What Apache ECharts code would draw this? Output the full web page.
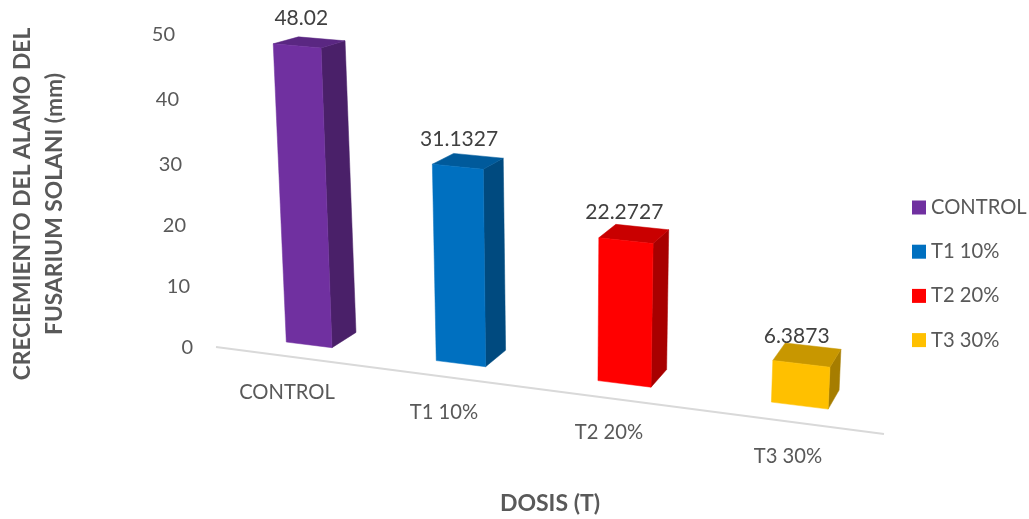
<!DOCTYPE html>
<html>
<head>
<meta charset="utf-8">
<style>html,body{margin:0;padding:0;background:#fff}#chart{width:1029px;height:519px}</style>
<script src="https://cdn.jsdelivr.net/npm/echarts@6/dist/echarts.min.js"></script>
</head>
<body>
<div id="chart"></div>
<script>
const categories = ['CONTROL', 'T1 10%', 'T2 20%', 'T3 30%'];
const growth = [48.02, 31.1327, 22.2727, 6.3873];
const yTicks = [0, 10, 20, 30, 40, 50];

// front, side and top shades of each box
const faceFront = ['#7030A0', '#0070C0', '#FF0000', '#FFC000'];
const faceSide = ['#4A2069', '#004A7F', '#A80000', '#A67D00'];
const faceTop = ['#5A2782', '#005A9B', '#C90000', '#C89700'];

const FONT = 'Lato, sans-serif';
const GRID = { left: 216, top: 33, width: 668, height: 314, outerBoundsMode: 'none' };

// Tick labels drift along the receding walls of the 3D frame
const yLabelShift = { 0: [0, 1], 10: [3, 2], 20: [7, 4], 30: [11, 6.4], 40: [14, 4], 50: [18, 2] };
const xLabelShift = [[12.5, 35], [22.5, 55], [24.5, 75], [12.5, 99]];

// Oblique projection of the floor and walls: floor position t runs 0..1 along the category axis
const floorX = t => 237.5 + 560.2 * t + 94 * t * t;
const floorY = x => 342 + 0.1238 * (x - 286);
const stretch = x => (6.35 + 0.00065 * (x - 500)) / 6.28;
const lean = x => 0.00016 * (x - 560);
const depthX = x => 24 - 0.0263 * (x - 332);
const depthY = (x, h) => -(15.3 + 0.0075 * (x - 332)) + 0.027 * h;

function corner(t, plotHeight, back) {
  const x0 = floorX(t);
  const h = plotHeight * stretch(x0);
  let x = x0 + lean(x0) * h;
  let y = floorY(x0) - h;
  if (back) {
    x += depthX(x0);
    y += depthY(x0, h);
  }
  return [x, y];
}

function renderBox(params, api) {
  const idx = api.value(0);
  const val = api.value(1);
  const sys = params.coordSys;
  const base = api.coord([idx, 0]);
  const top = api.coord([idx, val]);
  const plotH = base[1] - top[1];
  const t = (base[0] - sys.x) / sys.width;
  const half = api.size([1, 0])[0] * 0.1566 / sys.width;

  const fbl = corner(t - half, 0, false), fbr = corner(t + half, 0, false);
  const ftl = corner(t - half, plotH, false), ftr = corner(t + half, plotH, false);
  const bbr = corner(t + half, 0, true);
  const btl = corner(t - half, plotH, true), btr = corner(t + half, plotH, true);

  const face = (points, fill) => ({
    type: 'polygon',
    shape: { points },
    style: { fill, stroke: fill, lineWidth: 0.5 }
  });
  const midX = (ftl[0] + ftr[0]) / 2;
  return {
    type: 'group',
    children: [
      face([fbr, bbr, btr, ftr], faceSide[idx]),
      face([ftl, ftr, btr, btl], faceTop[idx]),
      face([fbl, fbr, ftr, ftl], faceFront[idx]),
      {
        type: 'text',
        style: {
          text: String(val),
          x: midX - lean(midX) * 110 - 0.5,
          y: (ftl[1] + ftr[1]) / 2 - 28,
          align: 'center',
          verticalAlign: 'middle',
          fill: '#404040',
          font: '21px ' + FONT
        }
      }
    ]
  };
}

// Floor edge of the frame, sloping away from the viewer
function renderFloor(params) {
  const sys = params.coordSys;
  return {
    type: 'line',
    shape: { x1: sys.x, y1: sys.y + sys.height, x2: sys.x + sys.width, y2: sys.y + sys.height + 87 },
    style: { stroke: '#D9D9D9', lineWidth: 2 }
  };
}

const yRich = {};
yTicks.forEach(v => {
  yRich['v' + v] = { padding: [yLabelShift[v][1] * 2, yLabelShift[v][0], 0, 0], fontFamily: FONT, fontSize: 20, color: '#595959' };
});
const xRich = {};
categories.forEach((c, i) => {
  xRich['c' + i] = { padding: [xLabelShift[i][1], xLabelShift[i][0] * 2, 0, 0], fontFamily: FONT, fontSize: 20.2, color: '#595959' };
});

const series = [{
  type: 'custom',
  name: 'suelo',
  coordinateSystem: 'cartesian2d',
  renderItem: renderFloor,
  data: [[0, 0]],
  silent: true,
  z: 1
}];
categories.forEach((c, i) => {
  series.push({
    type: 'custom',
    name: c,
    coordinateSystem: 'cartesian2d',
    renderItem: renderBox,
    encode: { x: 0, y: 1 },
    itemStyle: { color: faceFront[i] },
    data: [[i, growth[i]]],
    z: 2
  });
});

const chart = echarts.init(document.getElementById('chart'));
chart.setOption({
  animation: false,
  backgroundColor: '#fff',
  grid: GRID,
  legend: {
    data: categories,
    orient: 'vertical',
    left: 907,
    top: 192.5,
    itemWidth: 14,
    itemHeight: 14,
    itemGap: 24.2,
    icon: 'rect',
    selectedMode: false,
    textStyle: { fontFamily: FONT, fontSize: 20.2, color: '#595959' }
  },
  xAxis: {
    type: 'category',
    data: categories,
    name: 'DOSIS (T)',
    nameLocation: 'middle',
    nameGap: 145,
    nameTextStyle: { fontFamily: FONT, fontSize: 23, fontWeight: 'bold', color: '#595959' },
    axisLine: { show: false },
    axisTick: { show: false },
    axisLabel: {
      interval: 0,
      margin: 0,
      verticalAlign: 'top',
      hideOverlap: false,
      formatter: (value, i) => '{c' + i + '|' + value + '}',
      rich: xRich
    }
  },
  yAxis: {
    type: 'value',
    min: 0,
    max: 50,
    interval: 10,
    name: 'CRECIEMIENTO DEL ALAMO DEL\nFUSARIUM SOLANI (mm)',
    nameLocation: 'middle',
    nameGap: 145.5,
    nameRotate: 90,
    nameTextStyle: {
      fontFamily: FONT,
      fontSize: 22.8,
      fontWeight: 'bold',
      color: '#595959',
      lineHeight: 32,
      align: 'center',
      padding: [0, 28, 0, 0]
    },
    splitLine: { show: false },
    axisLine: { show: false },
    axisTick: { show: false },
    axisLabel: {
      margin: 23,
      formatter: value => '{v' + value + '|' + value + '}',
      rich: yRich
    }
  },
  series
});
</script>
</body>
</html>
